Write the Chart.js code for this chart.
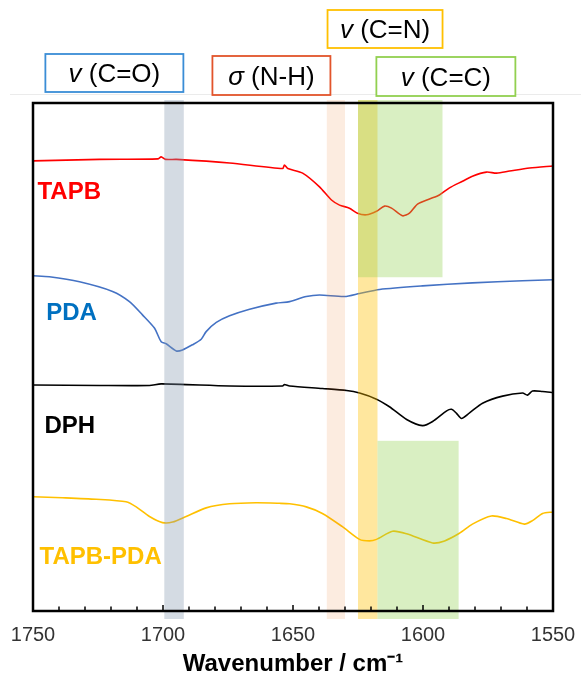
<!DOCTYPE html>
<html>
<head>
<meta charset="utf-8">
<script src="https://cdn.jsdelivr.net/npm/chart.js@4.4.1/dist/chart.umd.min.js"></script>
<style>
  body { margin: 0; background: #fff; }
  #wrap { width: 581px; height: 676px; }
</style>
</head>
<body>
<div id="wrap"><canvas id="ftir" width="581" height="676"></canvas></div>
<script>
// FTIR spectra, offset vertically (a.u.)
const wnTAPB = [1750, 1724.4, 1702, 1700.7, 1699, 1694.8, 1674.4, 1654, 1653.3, 1652, 1646.3, 1639.8, 1635.2, 1632.1, 1628.3, 1625.2, 1621.7, 1617.9, 1614.8, 1612.1, 1607.9, 1605.2, 1602.1, 1597.5, 1593.7, 1589.8, 1584.8, 1581, 1575.6, 1571.7, 1566.7, 1559, 1550];
const valTAPB = [88.6, 88.9, 89.0, 89.4, 88.9, 88.9, 88.2, 87.1, 87.8, 87.1, 86.2, 83.5, 80.9, 79.9, 79.3, 78.3, 78.0, 78.7, 79.7, 79.3, 77.8, 78.3, 80.1, 81.1, 81.9, 83.3, 84.6, 85.6, 86.4, 86.2, 86.6, 87.2, 87.6];

const wnPDA = [1750, 1743.7, 1732.1, 1719.4, 1712.9, 1707.9, 1703.3, 1700.7, 1698.8, 1694.9, 1692.5, 1688.7, 1685.3, 1683.4, 1679.5, 1674.4, 1666.7, 1656.5, 1651.3, 1644.9, 1639.8, 1630.2, 1624.4, 1616.7, 1600.2, 1581, 1561.7, 1550];
const valPDA = [66.0, 65.8, 64.8, 62.9, 60.9, 58.3, 55.7, 53.0, 52.6, 51.2, 51.4, 52.4, 53.5, 55.0, 56.8, 58.1, 59.4, 60.6, 60.9, 61.9, 62.2, 61.9, 62.5, 63.3, 64.0, 64.6, 65.0, 65.2];

const wnDPH = [1750, 1724.4, 1705.2, 1700.7, 1674.4, 1654, 1653.3, 1651.3, 1638.7, 1629.4, 1624.4, 1617.9, 1612.9, 1606.3, 1600.2, 1596.3, 1590.9, 1589, 1587.1, 1585.2, 1582.1, 1577.1, 1569.4, 1561.7, 1559.8, 1557.9, 1554, 1550];
const valDPH = [44.5, 44.4, 44.4, 44.7, 44.3, 44.3, 44.6, 44.3, 43.8, 43.4, 42.9, 41.7, 40.2, 37.7, 36.5, 37.3, 39.4, 39.7, 38.9, 37.9, 39.0, 40.9, 42.3, 42.9, 42.5, 43.3, 43.2, 43.0];

const wnCOF = [1750, 1738.7, 1725.7, 1714.2, 1710.3, 1705.2, 1700.2, 1696.3, 1691.1, 1683.4, 1674.4, 1664.2, 1655.2, 1651.3, 1644.9, 1638.7, 1631, 1624.4, 1620.6, 1617.9, 1611.7, 1606.3, 1596.3, 1591.7, 1586, 1581, 1573.7, 1567.9, 1561, 1557.9, 1554, 1550];
const valCOF = [22.5, 22.3, 22.0, 21.5, 20.5, 18.6, 17.4, 17.5, 18.6, 20.3, 21.1, 21.3, 21.2, 21.1, 20.5, 19.2, 16.6, 14.1, 13.8, 14.1, 15.7, 15.2, 13.4, 13.8, 15.3, 17.1, 18.7, 18.2, 17.1, 17.8, 19.2, 19.5];

// highlighted vibration regions [from, to] in cm-1, optional [ymin, ymax]
const bandCO = [1699.5, 1692];
const bandNH = [1637, 1630];
const bandCN = [1625, 1617.5];
const bandCCtop = [1625, 1592.5, 65.7, 100];
const bandCCbottom = [1617.5, 1586.3, 0, 33.5];

const FONT = '"Liberation Sans", Arial, sans-serif';

function pts(wn, val) {
  return wn.map((x, i) => ({ x: x, y: val[i] }));
}

const series = [
  { label: 'TAPB', data: pts(wnTAPB, valTAPB), color: '#FF0000' },
  { label: 'PDA', data: pts(wnPDA, valPDA), color: '#4472C4' },
  { label: 'DPH', data: pts(wnDPH, valDPH), color: '#000000' },
  { label: 'TAPB-PDA', data: pts(wnCOF, valCOF), color: '#FFC000' }
];

// text labels next to each trace
const traceLabels = [
  { text: 'TAPB', color: '#FF0000', x: 1748.3, y: 82.5 },
  { text: 'PDA', color: '#0070C0', x: 1744.9, y: 58.5 },
  { text: 'DPH', color: '#000000', x: 1745.6, y: 36.3 },
  { text: 'TAPB-PDA', color: '#FFC000', x: 1747.5, y: 10.6 }
];

// assignment boxes above the plot
const assignBoxes = [
  { sym: 'v', rest: ' (C=O)', color: '#3A8DD6', x: 1718.7, w: 138, top: 54, h: 38 },
  { sym: 'σ', rest: ' (N-H)', color: '#E2542B', x: 1658.3, w: 118, top: 56, h: 39 },
  { sym: 'v', rest: ' (C=N)', color: '#FFC000', x: 1614.6, w: 115, top: 10, h: 38 },
  { sym: 'v', rest: ' (C=C)', color: '#92D050', x: 1591.2, w: 139, top: 57, h: 39 }
];

const decor = {
  id: 'decor',
  beforeDraw(chart) {
    const ctx = chart.ctx;
    ctx.save();
    ctx.strokeStyle = '#ebebeb';
    ctx.lineWidth = 1;
    ctx.beginPath();
    ctx.moveTo(10, 94.5);
    ctx.lineTo(581, 94.5);
    ctx.stroke();
    ctx.restore();
  },
  afterDatasetsDraw(chart) {
    const ctx = chart.ctx;
    const xs = chart.scales.x, ys = chart.scales.y;
    const a = chart.chartArea;
    ctx.save();

    // translucent bands over the spectra
    function band(r, fill) {
      const x1 = xs.getPixelForValue(r[0]);
      const x2 = xs.getPixelForValue(r[1]);
      let y1 = a.top - 3, y2 = a.bottom + 8;
      if (r.length > 2) {
        y1 = r[3] >= 100 ? a.top - 3 : ys.getPixelForValue(r[3]);
        y2 = r[2] <= 0 ? a.bottom + 8 : ys.getPixelForValue(r[2]);
      }
      ctx.fillStyle = fill;
      ctx.fillRect(x1, y1, x2 - x1, y2 - y1);
    }
    band(bandCO, 'rgba(132,151,176,0.35)');
    band(bandNH, 'rgba(237,125,49,0.15)');
    band(bandCN, 'rgba(255,192,0,0.38)');
    band(bandCCtop, 'rgba(146,208,80,0.35)');
    band(bandCCbottom, 'rgba(146,208,80,0.35)');

    // frame
    ctx.strokeStyle = '#000';
    ctx.lineWidth = 2.5;
    ctx.strokeRect(a.left, a.top, a.right - a.left, a.bottom - a.top);

    // inward ticks every 10 cm-1
    ctx.lineWidth = 1.5;
    for (let w = 1560; w < 1750; w += 10) {
      const px = xs.getPixelForValue(w);
      const len = w % 50 === 0 ? 6 : 4.5;
      ctx.beginPath();
      ctx.moveTo(px, a.bottom);
      ctx.lineTo(px, a.bottom - len);
      ctx.stroke();
    }

    // trace names
    ctx.font = 'bold 24px ' + FONT;
    ctx.textBaseline = 'middle';
    ctx.textAlign = 'left';
    traceLabels.forEach(l => {
      ctx.fillStyle = l.color;
      ctx.fillText(l.text, xs.getPixelForValue(l.x), ys.getPixelForValue(l.y));
    });

    // assignment boxes
    assignBoxes.forEach(b => {
      const cx = xs.getPixelForValue(b.x);
      const left = cx - b.w / 2;
      ctx.fillStyle = '#fff';
      ctx.fillRect(left, b.top, b.w, b.h);
      ctx.strokeStyle = b.color;
      ctx.lineWidth = 1.8;
      ctx.strokeRect(left, b.top, b.w, b.h);
      ctx.fillStyle = '#000';
      ctx.font = 'italic 26px ' + FONT;
      const w1 = ctx.measureText(b.sym).width;
      ctx.font = '26px ' + FONT;
      const w2 = ctx.measureText(b.rest).width;
      const tx = cx - (w1 + w2) / 2;
      const ty = b.top + b.h / 2 + 2;
      ctx.font = 'italic 26px ' + FONT;
      ctx.fillText(b.sym, tx, ty);
      ctx.font = '26px ' + FONT;
      ctx.fillText(b.rest, tx + w1, ty);
    });
    ctx.restore();
  }
};

new Chart(document.getElementById('ftir'), {
  type: 'line',
  data: {
    datasets: series.map(s => ({
      label: s.label,
      data: s.data,
      borderColor: s.color,
      borderWidth: 1.6,
      pointRadius: 0,
      tension: 0.25,
      fill: false
    }))
  },
  options: {
    responsive: false,
    animation: false,
    layout: { padding: { left: 33, right: 28, top: 103, bottom: 0 } },
    plugins: { legend: { display: false }, tooltip: { enabled: false } },
    scales: {
      x: {
        type: 'linear',
        reverse: true,
        min: 1550,
        max: 1750,
        border: { display: false },
        // ticks are drawn inward by the plugin; tickLength only spaces the labels
        grid: { display: false, drawTicks: true, tickLength: 9 },
        ticks: {
          stepSize: 50,
          padding: 3,
          maxRotation: 0,
          color: '#333',
          font: { family: FONT, size: 20, lineHeight: 1.2 },
          callback: v => String(v)
        },
        title: {
          display: true,
          text: 'Wavenumber / cm⁻¹',
          color: '#000',
          padding: { top: 2, bottom: 0 },
          font: { family: FONT, size: 24, weight: 'bold', lineHeight: 1.0 }
        }
      },
      y: {
        display: false,
        min: 0,
        max: 100
      }
    }
  },
  plugins: [decor]
});
</script>
</body>
</html>
